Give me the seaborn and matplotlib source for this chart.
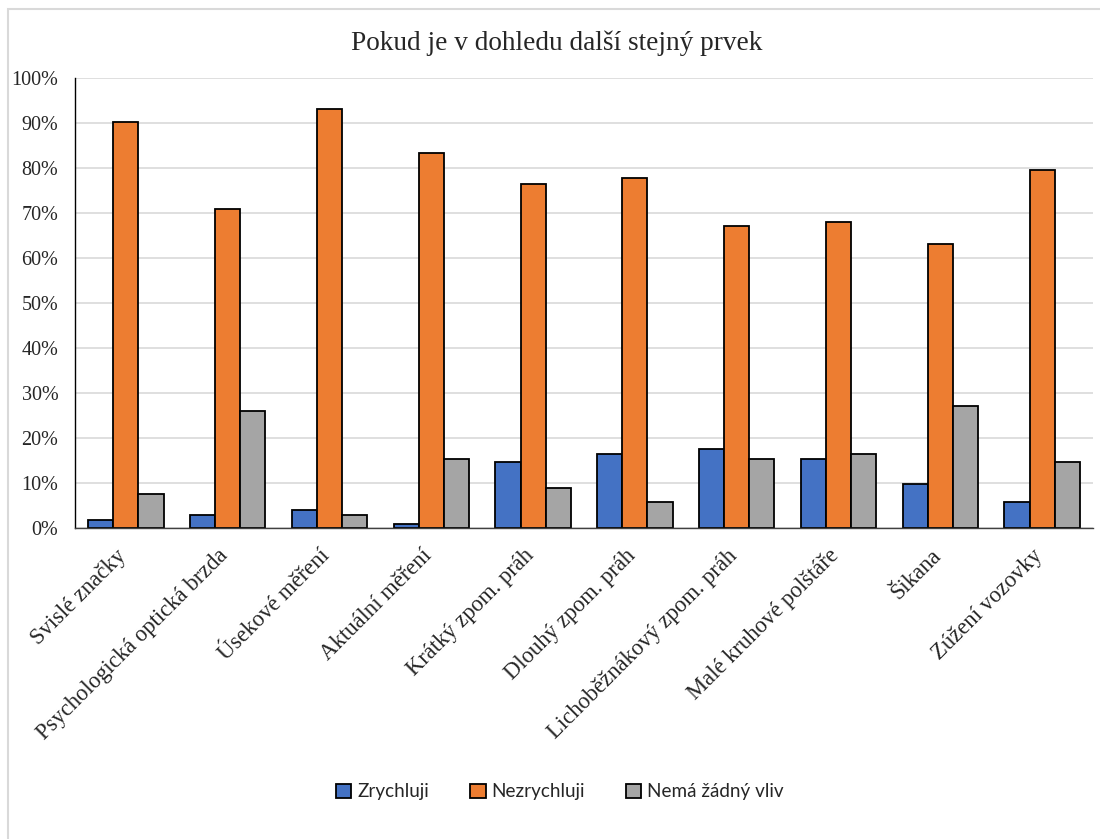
import matplotlib
matplotlib.use("Agg")
import matplotlib.pyplot as plt
import matplotlib.ticker as mticker
import matplotlib.transforms as mtransforms
from matplotlib.patches import Rectangle
import seaborn as sns
import pandas as pd

categories = ["Svislé značky", "Psychologická optická brzda", "Úsekové měření",
              "Aktuální měření", "Krátký zpom. práh", "Dlouhý zpom. práh",
              "Lichoběžnákový zpom. práh", "Malé kruhové polštáře", "Šikana",
              "Zúžení vozovky"]
series = ["Zrychluji", "Nezrychluji", "Nemá žádný vliv"]
zrychluji = [1.8, 2.8, 3.9, 0.9, 14.6, 16.4, 17.5, 15.4, 9.8, 5.7]
nezrychluji = [90.2, 70.8, 93.1, 83.3, 76.4, 77.7, 67.1, 67.9, 63.0, 79.5]
nema_vliv = [7.6, 26.1, 2.8, 15.4, 8.8, 5.7, 15.4, 16.4, 27.2, 14.7]
title = "Pokud je v dohledu další stejný prvek"
colors = ["#4472C4", "#ED7D31", "#A5A5A5"]

rows = []
for s, vals in zip(series, [zrychluji, nezrychluji, nema_vliv]):
    for c, v in zip(categories, vals):
        rows.append({"cat": c, "series": s, "value": v / 100.0})
df = pd.DataFrame(rows)

sns.set_theme(style="white")
plt.rcParams["font.family"] = ["Liberation Serif", "DejaVu Serif"]

fig = plt.figure(figsize=(11, 8.39), dpi=100)
ax = fig.add_axes([75 / 1100, 1 - 528 / 839, (1093 - 75) / 1100, (528 - 78) / 839])

sns.barplot(data=df, x="cat", y="value", hue="series", order=categories,
            hue_order=series, palette=colors, width=0.74, ax=ax,
            edgecolor="black", linewidth=1.3, saturation=1, legend=True)

ax.set_ylim(0, 1.0)
ax.set_xlim(-0.5, len(categories) - 0.5)
ax.yaxis.set_major_locator(mticker.MultipleLocator(0.1))
ax.yaxis.set_major_formatter(mticker.FuncFormatter(lambda v, p: f"{int(round(v * 100))}%"))
ax.grid(axis="y", color="#D9D9D9", linewidth=1.2)
ax.set_axisbelow(True)
for s in ["top", "right"]:
    ax.spines[s].set_visible(False)
ax.spines["left"].set_color("black")
ax.spines["left"].set_linewidth(1.0)
ax.spines["bottom"].set_color("#404040")
ax.spines["bottom"].set_linewidth(1.0)
ax.set_xlabel("")
ax.set_ylabel("")
ax.tick_params(axis="y", labelsize=14.5, pad=12, length=0)
ax.tick_params(axis="x", labelsize=16.3, length=0, pad=6)
plt.setp(ax.get_xticklabels(), rotation=45, ha="right", rotation_mode="anchor")
offset = mtransforms.ScaledTranslation(-10 / 100, -9 / 100, fig.dpi_scale_trans)
for lab in ax.get_xticklabels():
    lab.set_transform(lab.get_transform() + offset)

fig.text(557 / 1100, 1 - 43 / 839, title, ha="center", va="center", fontsize=19.6)

handles, labels = ax.get_legend_handles_labels()
ax.legend_.remove()
leg = fig.legend(handles, labels, loc="center", bbox_to_anchor=(560 / 1100, 1 - 792 / 839),
                 ncol=3, frameon=False, prop={"family": "Lato", "size": 13.6},
                 handlelength=0.8, handleheight=0.8, handletextpad=0.3, columnspacing=2.2)
for h in leg.legend_handles:
    h.set_edgecolor("black")
    h.set_linewidth(1.3)

fig.patches.append(Rectangle((8 / 1100, -0.01), 1.02, 1 - 9 / 839 + 0.01,
                             transform=fig.transFigure, fill=False,
                             edgecolor="#D9D9D9", linewidth=1.5))

fig.savefig("out.png", dpi=100, facecolor="white")
